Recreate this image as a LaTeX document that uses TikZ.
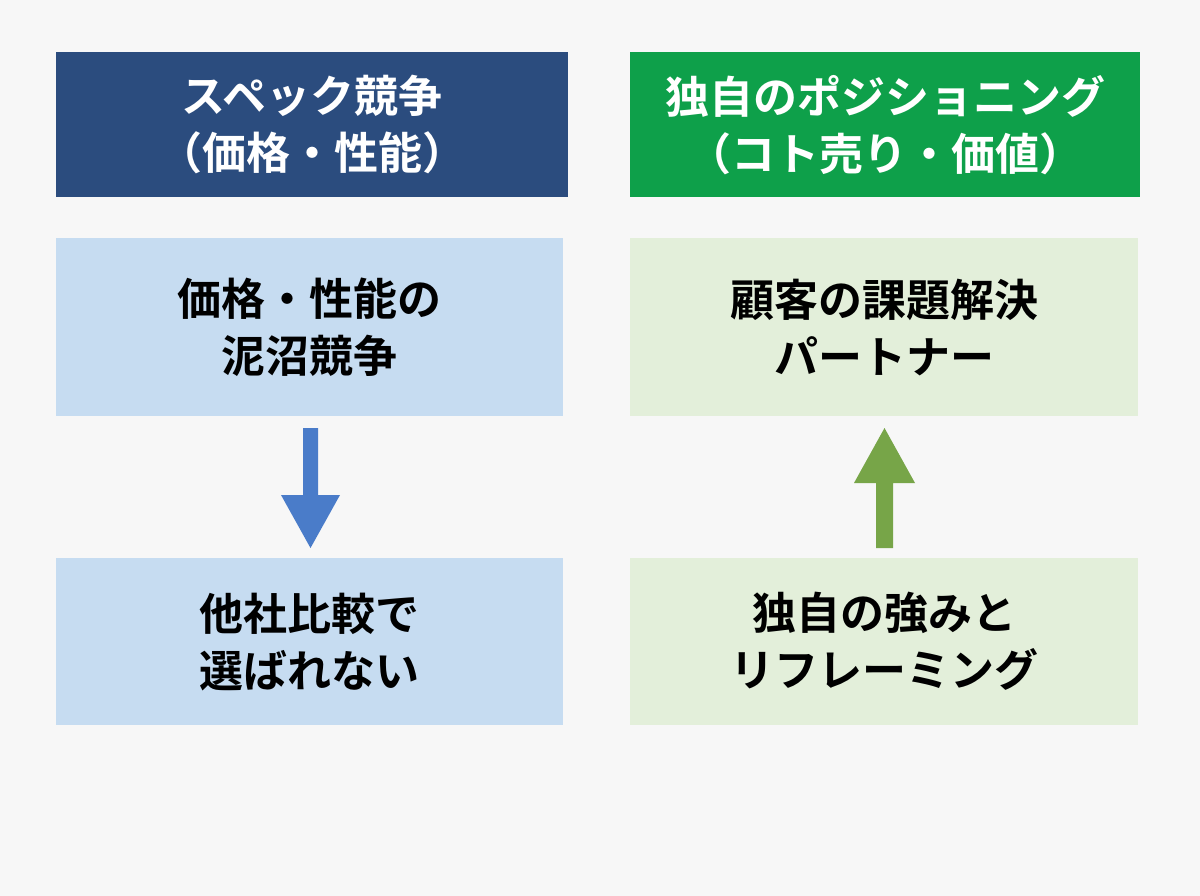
\documentclass[tikz,border=0pt]{standalone}
\usepackage{fontspec}
\newfontfamily\jp{Noto Sans CJK JP}[BoldFont={Noto Sans CJK JP Bold}]
\definecolor{hdblue}{HTML}{2B4C7E}
\definecolor{hdgreen}{HTML}{0EA04A}
\definecolor{ltblue}{HTML}{C6DCF1}
\definecolor{ltgreen}{HTML}{E3EFDA}
\definecolor{arblue}{HTML}{4A7CC9}
\definecolor{argreen}{HTML}{77A548}
\begin{document}
\begin{tikzpicture}[x=1pt,y=-1pt,
 box/.style={draw=none,anchor=north west,inner sep=0,align=center,font=\jp\bfseries\fontsize{44}{57}\selectfont},
 hdr/.style={box,text=white},
 body/.style={box,text=black}]
\fill[white!97!black] (0,0) rectangle (1200,896);
\useasboundingbox (0,0) rectangle (1200,896);
\node[hdr,fill=hdblue,minimum width=512,minimum height=145] (lh) at (56,52) {スペック競争\\（価格・性能）};
\node[hdr,fill=hdgreen,minimum width=510,minimum height=145] (rh) at (630,52) {独自のポジショニング\\（コト売り・価値）};
\node[body,fill=ltblue,minimum width=507,minimum height=178] (l1) at (56,238) {価格・性能の\\泥沼競争};
\node[body,fill=ltgreen,minimum width=508,minimum height=178] (r1) at (630,238) {顧客の課題解決\\パートナー};
\node[body,fill=ltblue,minimum width=507,minimum height=167] (l2) at (56,558) {他社比較で\\選ばれない};
\node[body,fill=ltgreen,minimum width=508,minimum height=167] (r2) at (630,558) {独自の強みと\\リフレーミング};
\fill[arblue] (303,428) -- (318,428) -- (318,495) -- (340,495) -- (310.5,548) -- (281,495) -- (303,495) -- cycle;
\fill[argreen] (876,548) -- (893,548) -- (893,483) -- (915,483) -- (884.5,428) -- (854,483) -- (876,483) -- cycle;
\end{tikzpicture}
\end{document}
